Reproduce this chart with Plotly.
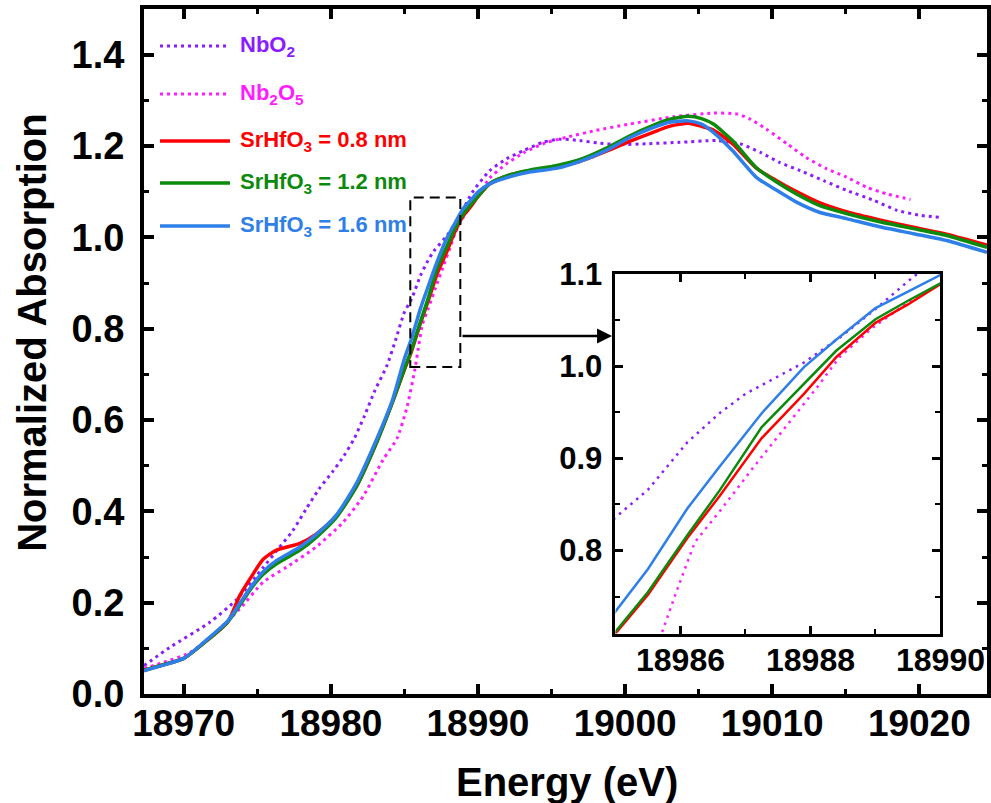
import plotly.graph_objects as go

# ---------------- data ----------------
energy_sample = [18967.3, 18968.5, 18970.0, 18971.5, 18973.0, 18973.8, 18974.7, 18975.4, 18976.3,
                 18977.9, 18979.0, 18980.4, 18981.75, 18983.1, 18984.2, 18985.0, 18985.5, 18986.1,
                 18986.6, 18987.25, 18987.9, 18988.4, 18989.0, 18989.5, 18990.0, 18990.8, 18992.2,
                 18993.5, 18995.3, 18996.9, 18998.7, 19000.3, 19001.9, 19003.0, 19004.3, 19005.2,
                 19006.0, 19007.3, 19008.9, 19010.3, 19011.65, 19013.2, 19015.05, 19017.3, 19019.6,
                 19021.85, 19024.6]

abs_08nm = [0.052, 0.063, 0.078, 0.115, 0.158, 0.215, 0.262, 0.295, 0.315, 0.330, 0.350, 0.390,
            0.455, 0.550, 0.640, 0.710, 0.752, 0.813, 0.859, 0.922, 0.970, 1.010, 1.047, 1.067,
            1.089, 1.117, 1.137, 1.146, 1.155, 1.166, 1.188, 1.210, 1.230, 1.243, 1.250, 1.243,
            1.235, 1.205, 1.152, 1.124, 1.100, 1.076, 1.056, 1.038, 1.022, 1.007, 0.983]

abs_12nm = [0.052, 0.063, 0.078, 0.115, 0.158, 0.194, 0.236, 0.262, 0.285, 0.315, 0.343, 0.388,
            0.455, 0.550, 0.640, 0.712, 0.755, 0.816, 0.865, 0.934, 0.981, 1.017, 1.051, 1.071,
            1.090, 1.118, 1.137, 1.147, 1.157, 1.170, 1.195, 1.222, 1.245, 1.258, 1.265, 1.260,
            1.248, 1.212, 1.153, 1.121, 1.095, 1.070, 1.052, 1.034, 1.019, 1.004, 0.978]

abs_16nm = [0.051, 0.062, 0.078, 0.117, 0.160, 0.198, 0.240, 0.268, 0.292, 0.322, 0.349, 0.393,
            0.462, 0.557, 0.645, 0.734, 0.780, 0.845, 0.891, 0.949, 0.999, 1.029, 1.063, 1.081,
            1.099, 1.117, 1.133, 1.143, 1.151, 1.166, 1.190, 1.218, 1.240, 1.252, 1.255, 1.248,
            1.230, 1.190, 1.132, 1.103, 1.077, 1.055, 1.041, 1.023, 1.008, 0.993, 0.967]

energy_nbo2 = [18967.3, 18969.05, 18971.77, 18973.6, 18975.4, 18976.5, 18977.4, 18978.3, 18979.2,
               18980.1, 18980.9, 18981.6, 18982.3, 18983.0, 18983.8, 18984.4, 18985.0, 18985.5,
               18986.1, 18986.6, 18987.0, 18987.9, 18988.45, 18989.0, 18989.6, 18990.8, 18991.95,
               18993.1, 18994.4, 18995.6, 18996.9, 18998.3, 18999.6, 19001.5, 19003.7, 19006.2,
               19007.8, 19009.2, 19010.5, 19011.9, 19013.5, 19015.05, 19016.9, 19018.5, 19020.1,
               19021.4]
abs_nbo2 = [0.062, 0.102, 0.157, 0.207, 0.277, 0.321, 0.357, 0.404, 0.449, 0.486, 0.522, 0.560,
            0.610, 0.665, 0.718, 0.775, 0.836, 0.866, 0.917, 0.949, 0.970, 1.004, 1.031, 1.062,
            1.098, 1.146, 1.172, 1.190, 1.208, 1.215, 1.212, 1.206, 1.203, 1.205, 1.208, 1.212,
            1.205, 1.186, 1.164, 1.146, 1.124, 1.103, 1.081, 1.059, 1.048, 1.044]

energy_nb2o5 = [18967.3, 18968.5, 18970.4, 18972.0, 18973.8, 18975.4, 18977.0, 18979.0, 18980.8,
                18982.2, 18983.55, 18984.5, 18985.15, 18985.71, 18985.92, 18986.22, 18986.63,
                18987.13, 18987.74, 18988.1, 18988.45, 18988.96, 18989.46, 18990.0, 18990.8,
                18991.9, 18993.1, 18994.6, 18996.0, 18998.0, 19000.3, 19003.3, 19006.0, 19007.6,
                19008.5, 19009.6, 19011.0, 19012.3, 19013.7, 19015.05, 19016.4, 19017.8, 19019.4]
abs_nb2o5 = [0.056, 0.068, 0.090, 0.130, 0.186, 0.245, 0.278, 0.322, 0.375, 0.433, 0.513, 0.560,
             0.625, 0.710, 0.752, 0.809, 0.845, 0.891, 0.945, 0.977, 1.010, 1.042, 1.067, 1.090,
             1.130, 1.160, 1.185, 1.207, 1.219, 1.234, 1.248, 1.264, 1.272, 1.270, 1.259, 1.237,
             1.205, 1.175, 1.150, 1.132, 1.110, 1.095, 1.083]

series_names = ["NbO<sub>2</sub>", "Nb<sub>2</sub>O<sub>5</sub>", "SrHfO<sub>3</sub> = 0.8 nm",
                "SrHfO<sub>3</sub> = 1.2 nm", "SrHfO<sub>3</sub> = 1.6 nm"]
series_colors = ["#8a1cff", "#ff1cff", "#ff0000", "#0c8a0c", "#2e7fe8"]
series_dotted = [True, True, False, False, False]
series_x = [energy_nbo2, energy_nb2o5, energy_sample, energy_sample, energy_sample]
series_y = [abs_nbo2, abs_nb2o5, abs_08nm, abs_12nm, abs_16nm]

main_x_range = [18967.3, 19024.6]
main_y_range = [0, 1.5]
inset_x_range = [18985, 18990]
inset_y_range = [0.71, 1.1]
zoom_box_x = [18985.4, 18988.8]
zoom_box_y = [0.716, 1.087]

FONT = "Liberation Sans, Arial, sans-serif"

fig = go.Figure()
for name, col, dotted, xs, ys in zip(series_names, series_colors, series_dotted, series_x, series_y):
    fig.add_trace(go.Scatter(x=xs, y=ys, mode="lines", name=name, showlegend=False,
                             line=dict(color=col, width=3 if dotted else 3.5, shape="spline",
                                       smoothing=0.6, dash="3px,4px" if dotted else "solid"),
                             xaxis="x", yaxis="y"))
for name, col, dotted, xs, ys in zip(series_names, series_colors, series_dotted, series_x, series_y):
    fig.add_trace(go.Scatter(x=xs, y=ys, mode="lines", name=name, showlegend=False,
                             line=dict(color=col, width=2.5,
                                       dash="2.5px,5px" if dotted else "solid"),
                             xaxis="x2", yaxis="y2"))

axis_common = dict(showline=True, linecolor="black", mirror="allticks", ticks="inside",
                   showgrid=False, zeroline=False, tickcolor="black", automargin=False)

fig.update_layout(
    template="none",
    width=991, height=803, autosize=False,
    margin=dict(l=144, r=4, t=9, b=109, pad=0),
    paper_bgcolor="white", plot_bgcolor="white",
    font=dict(family=FONT, color="black"),
    xaxis=dict(range=main_x_range, tick0=18970, dtick=10, tickformat="d", linewidth=4, ticklen=10,
               tickwidth=4,
               minor=dict(dtick=5, ticks="inside", ticklen=5, tickwidth=3, tickcolor="black"),
               tickfont=dict(size=37, family=FONT, weight="bold"), ticklabelstandoff=-6,
               **axis_common),
    yaxis=dict(range=main_y_range, tick0=0, dtick=0.2, tickformat=".1f", linewidth=4, ticklen=10,
               tickwidth=4,
               minor=dict(dtick=0.1, ticks="inside", ticklen=5, tickwidth=3, tickcolor="black"),
               tickfont=dict(size=38, family=FONT, weight="bold"), ticklabelstandoff=8,
               **axis_common),
    xaxis2=dict(domain=[0.5593, 0.9448], anchor="y2", range=inset_x_range, tick0=18986, dtick=2,
                tickformat="d", linewidth=3, ticklen=8, tickwidth=2.5,
                minor=dict(dtick=1, ticks="inside", ticklen=5, tickwidth=2, tickcolor="black"),
                tickfont=dict(size=32, family=FONT, weight="bold"), ticklabelstandoff=-4,
                **axis_common),
    yaxis2=dict(domain=[0.0883, 0.6131], anchor="x2", range=inset_y_range, tick0=0.8, dtick=0.1,
                tickformat=".1f", linewidth=3, ticklen=8, tickwidth=2.5,
                minor=dict(dtick=0.05, ticks="inside", ticklen=5, tickwidth=2, tickcolor="black"),
                tickfont=dict(size=31, family=FONT, weight="bold"), ticklabelstandoff=4,
                **axis_common),
)

# dashed box marking the zoomed region
fig.add_shape(type="rect", xref="x", yref="y", x0=zoom_box_x[0], x1=zoom_box_x[1],
              y0=zoom_box_y[0], y1=zoom_box_y[1], line=dict(color="black", width=2, dash="10px,6px"))

# arrow from box to inset
fig.add_annotation(xref="paper", yref="paper", x=0.5552, y=0.5226, ax=-151, ay=0, text="",
                   showarrow=True, arrowhead=2, arrowsize=1.2, arrowwidth=2.5, arrowcolor="black")

# axis titles
fig.add_annotation(xref="paper", yref="paper", x=-0.133, y=0.5285, text="Normalized Absorption",
                   textangle=-90, showarrow=False, xanchor="center", yanchor="middle",
                   font=dict(size=40, family=FONT, weight="bold"))
fig.add_annotation(xref="paper", yref="paper", x=0.5018, y=-0.129, text="Energy (eV)",
                   showarrow=False, xanchor="center", yanchor="middle",
                   font=dict(size=40, family=FONT, weight="bold"))

# legend (drawn manually to match long line samples)
legend_rows = [0.946, 0.8759, 0.8073, 0.7460, 0.6832]
for name, col, dotted, yy in zip(series_names, series_colors, series_dotted, legend_rows):
    fig.add_shape(type="line", xref="paper", yref="paper", x0=0.019, x1=0.102, y0=yy, y1=yy,
                  line=dict(color=col, width=3 if dotted else 3.5,
                            dash="3px,4px" if dotted else "solid"))
    fig.add_annotation(xref="paper", yref="paper", x=0.1115, y=yy, text=name, showarrow=False,
                       xanchor="left", yanchor="middle",
                       font=dict(size=22, family=FONT, weight="bold", color=col))

fig.write_html("out.html", config={"displayModeBar": False},
               post_script="document.body.style.margin='0';document.body.style.overflow='hidden';")
